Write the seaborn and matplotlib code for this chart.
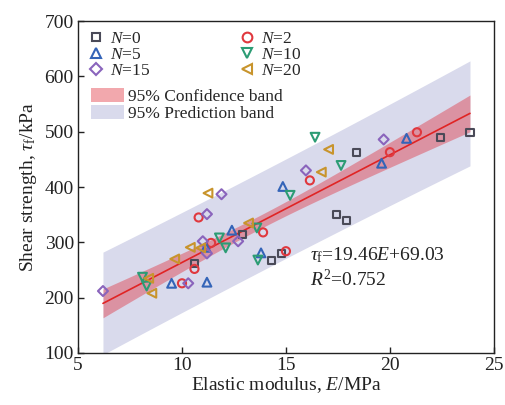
import numpy as np
import pandas as pd
import matplotlib
matplotlib.use("Agg")
import matplotlib.pyplot as plt
from matplotlib.patches import Patch
from matplotlib.lines import Line2D
import seaborn as sns

# Elastic modulus E (MPa) and shear strength tau_f (kPa) per freeze-thaw cycle count N
E_N0 = [10.6, 12.9, 14.3, 14.8, 17.45, 17.9, 18.4, 22.45, 23.85]
T_N0 = [262, 315, 268, 280, 351, 340, 463, 490, 499]
E_N2 = [10.0, 10.6, 10.8, 11.4, 13.9, 15.0, 16.15, 20.0, 21.3]
T_N2 = [226, 252, 345, 299, 318, 284, 412, 463, 499]
E_N5 = [9.5, 11.15, 11.2, 12.4, 13.8, 14.85, 19.6, 20.8]
T_N5 = [226, 291, 228, 322, 281, 401, 443, 488]
E_N10 = [8.1, 8.3, 11.8, 12.1, 13.6, 13.65, 15.2, 16.4, 17.65]
T_N10 = [237, 221, 308, 290, 326, 268, 385, 490, 439]
E_N15 = [6.2, 10.3, 11.0, 11.2, 11.2, 11.9, 12.7, 15.96, 19.7]
T_N15 = [212, 226, 302, 280, 351, 387, 302, 430, 486]
E_N20 = [8.4, 8.55, 9.65, 10.4, 10.9, 11.25, 13.2, 16.7, 17.05]
T_N20 = [235, 208, 270, 291, 290, 389, 335, 427, 468]

# Fitted relation as stated on the chart
SLOPE = 19.46
INTERCEPT = 69.03
R2_TEXT = "0.752"

groups = ["0", "2", "5", "10", "15", "20"]
series_E = [E_N0, E_N2, E_N5, E_N10, E_N15, E_N20]
series_T = [T_N0, T_N2, T_N5, T_N10, T_N15, T_N20]

rows = []
for g, es, ts in zip(groups, series_E, series_T):
    for e, t in zip(es, ts):
        rows.append({"E": e, "tau": t, "N": g})
df = pd.DataFrame(rows)

sns.set_theme(style="white")
plt.rcParams["font.family"] = ["Liberation Serif", "DejaVu Serif"]
plt.rcParams["mathtext.fontset"] = "custom"
plt.rcParams["mathtext.rm"] = "Liberation Serif"
plt.rcParams["mathtext.it"] = "Liberation Serif:italic"
plt.rcParams["mathtext.bf"] = "Liberation Serif:bold"

colors = {"0": "#4a4a58", "2": "#e0383e", "5": "#3464b8",
          "10": "#2c9c74", "15": "#8a64bc", "20": "#c8942c"}
markers = {"0": "s", "2": "o", "5": "^", "10": "v", "15": "D", "20": "<"}
sizes = {"0": 26, "2": 34, "5": 40, "10": 40, "15": 26, "20": 40}

fig = plt.figure(figsize=(5.05, 4.05), dpi=100)
ax = fig.add_axes([0.1545, 0.1284, 0.8235, 0.8196])

# Regression bands from the residuals about the stated line
x = df["E"].to_numpy(float)
y = df["tau"].to_numpy(float)
n = len(x)
resid = y - (SLOPE * x + INTERCEPT)
s = np.sqrt(np.sum(resid ** 2) / (n - 2))
xm = x.mean()
sxx = np.sum((x - xm) ** 2)
tval = 2.008
xg = np.linspace(x.min(), x.max(), 200)
yg = SLOPE * xg + INTERCEPT
ci = tval * s * np.sqrt(1 / n + (xg - xm) ** 2 / sxx)
pi = tval * s * np.sqrt(1 + 1 / n + (xg - xm) ** 2 / sxx)

pred_color = "#d9daec"
conf_color = "#e0303c"
ax.fill_between(xg, yg - pi, yg + pi, color=pred_color, lw=0, zorder=1)
ax.fill_between(xg, yg - ci, yg + ci, color=conf_color, alpha=0.42, lw=0, zorder=2)
sns.lineplot(x=xg, y=yg, color="#e02424", lw=1.2, ax=ax, zorder=3)

for g in groups:
    sub = df[df["N"] == g]
    sns.scatterplot(data=sub, x="E", y="tau", marker=markers[g], s=sizes[g],
                    facecolor="none", edgecolor=colors[g], linewidth=1.5,
                    ax=ax, zorder=4)

ax.set_xlim(5, 25)
ax.set_ylim(100, 700)
ax.set_xticks([5, 10, 15, 20, 25])
ax.set_yticks([100, 200, 300, 400, 500, 600, 700])
ax.tick_params(axis="both", direction="in", length=4, width=1, labelsize=14,
               bottom=True, left=True, top=False, right=False, pad=3, colors="#222222")
for sp in ax.spines.values():
    sp.set_color("#222222")
    sp.set_linewidth(1.0)
ax.set_xlabel("Elastic modulus, $E$/MPa", fontsize=14, labelpad=1, color="#222222")
ax.set_ylabel(r"Shear strength, $\tau_\mathrm{f}$/kPa", fontsize=14, labelpad=4, color="#222222")

ax.text(16.15, 277, r"$\tau_\mathrm{f}$=19.46$E$+69.03", fontsize=14, va="center",
        ha="left", color="#222222", zorder=5)
ax.text(16.15, 232, r"$R^2$=" + R2_TEXT, fontsize=14, va="center", ha="left",
        color="#222222", zorder=5)

handles = []
for g in groups:
    handles.append(Line2D([], [], ls="none", marker=markers[g], ms=6 if g in ("0", "15") else 7,
                          mfc="none", mec=colors[g], mew=1.5, label=f"$N$={g}"))
# Two columns reading N=0/5/15 and N=2/10/20
col_order = [0, 2, 4, 1, 3, 5]
leg1 = ax.legend(handles=[handles[i] for i in col_order], ncol=2, loc="upper left",
                 bbox_to_anchor=(0.0, 1.0), frameon=False, fontsize=12.5,
                 handlelength=1.0, handletextpad=0.3, columnspacing=5.05,
                 labelspacing=0.0, borderaxespad=0.15)
ax.add_artist(leg1)
band_handles = [Patch(facecolor=conf_color, alpha=0.42, lw=0, label="95% Confidence band"),
                Patch(facecolor=pred_color, lw=0, label="95% Prediction band")]
ax.legend(handles=band_handles, loc="upper left", bbox_to_anchor=(0.015, 0.82),
          frameon=False, fontsize=12.5, handlelength=1.9, handleheight=0.9,
          handletextpad=0.2, labelspacing=0.0, borderaxespad=0.0)

fig.savefig("out.png", dpi=100)
